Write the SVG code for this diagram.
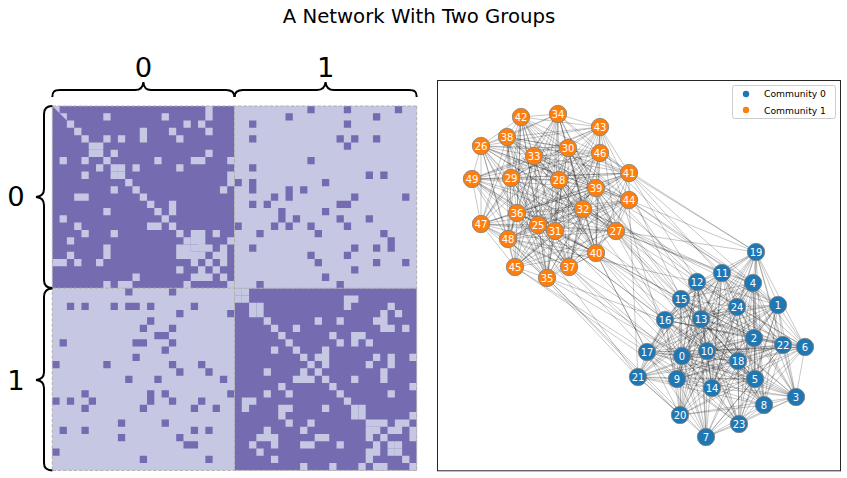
<svg xmlns="http://www.w3.org/2000/svg" width="847" height="478" viewBox="0 0 847 478">
<style>
.t{font-family:"DejaVu Sans",sans-serif;fill:#000}
.br{fill:none;stroke:#000;stroke-width:2}
.dk{fill:#756bb1}
.lt{fill:#c6c7e2}
.gl{stroke:#b0b0b0;stroke-width:1;stroke-dasharray:3.7 1.6;fill:none}
.e{fill:none;stroke:#000;stroke-opacity:.28;stroke-width:.8}
.node circle{stroke:#7f7f7f;stroke-width:.8}
.c0 circle{fill:#1f77b4}
.c1 circle{fill:#ff7f0e}
.node text{fill:#fff;font-family:"DejaVu Sans",sans-serif;font-size:10px;text-anchor:middle}
</style>
<rect width="847" height="478" fill="#fff"/>
<text class="t" x="419" y="23" font-size="19.7" text-anchor="middle">A Network With Two Groups</text>

<g id="matrix" transform="translate(52.3 106) scale(7.288)">
<rect class="dk" x="0" y="0" width="25" height="25"/>
<rect class="dk" x="25" y="25" width="25" height="25"/>
<rect class="lt" x="25" y="0" width="25" height="25"/>
<rect class="lt" x="0" y="25" width="25" height="25"/>
<path class="lt" d="M0 0h1v1h1v1h1v1h1v1h1v1h1v1h1v1h1v1h1v1h1v1h1v1h1v1h1v1h1v1h1v1h1v1h1v1h1v1h1v1h1v1h1v1h1v1h1v1h1v1h1v1h1v1h1v1h1v1h1v1h1v1h1v1h1v1h1v1h1v1h1v1h1v1h1v1h1v1h1v1h1v1h1v1h1v1h1v1h1v1h1v1h1v1h1v1h1v1h1v1h1v1h-1v-1h-1v-1h-1v-1h-1v-1h-1v-1h-1v-1h-1v-1h-1v-1h-1v-1h-1v-1h-1v-1h-1v-1h-1v-1h-1v-1h-1v-1h-1v-1h-1v-1h-1v-1h-1v-1h-1v-1h-1v-1h-1v-1h-1v-1h-1v-1h-1v-1h-1v-1h-1v-1h-1v-1h-1v-1h-1v-1h-1v-1h-1v-1h-1v-1h-1v-1h-1v-1h-1v-1h-1v-1h-1v-1h-1v-1h-1v-1h-1v-1h-1v-1h-1v-1h-1v-1h-1v-1h-1v-1h-1v-1h-1v-1z"/>
<path class="lt" d="M21 0h1v1h-1zM0 21h1v1h-1zM7 1h1v1h-1zM1 7h1v1h-1zM15 1h1v1h-1zM1 15h1v1h-1zM21 1h1v1h-1zM1 21h1v1h-1zM18 2h1v1h-1zM2 18h1v1h-1zM20 2h1v1h-1zM2 20h1v1h-1zM12 3h1v1h-1zM3 12h1v1h-1zM16 3h1v1h-1zM3 16h1v1h-1zM21 3h1v1h-1zM3 21h1v1h-1zM7 4h1v1h-1zM4 7h1v1h-1zM9 4h1v1h-1zM4 9h1v1h-1zM12 4h1v1h-1zM4 12h1v1h-1zM17 4h1v1h-1zM4 17h1v1h-1zM6 5h1v1h-1zM5 6h1v1h-1zM8 6h1v1h-1zM6 8h1v1h-1zM21 6h1v1h-1zM6 21h1v1h-1zM14 7h1v1h-1zM7 14h1v1h-1zM19 7h1v1h-1zM7 19h1v1h-1zM20 7h1v1h-1zM7 20h1v1h-1zM24 7h1v1h-1zM7 24h1v1h-1zM9 8h1v1h-1zM8 9h1v1h-1zM11 8h1v1h-1zM8 11h1v1h-1zM17 8h1v1h-1zM8 17h1v1h-1zM24 9h1v1h-1zM9 24h1v1h-1zM24 10h1v1h-1zM10 24h1v1h-1zM23 11h1v1h-1zM11 23h1v1h-1zM16 13h1v1h-1zM13 16h1v1h-1zM16 14h1v1h-1zM14 16h1v1h-1zM19 17h1v1h-1zM17 19h1v1h-1zM20 17h1v1h-1zM17 20h1v1h-1zM22 17h1v1h-1zM17 22h1v1h-1zM19 18h1v1h-1zM18 19h1v1h-1zM20 18h1v1h-1zM18 20h1v1h-1zM24 18h1v1h-1zM18 24h1v1h-1zM20 19h1v1h-1zM19 20h1v1h-1zM21 19h1v1h-1zM19 21h1v1h-1zM23 19h1v1h-1zM19 23h1v1h-1zM22 20h1v1h-1zM20 22h1v1h-1zM23 20h1v1h-1zM20 23h1v1h-1zM23 21h1v1h-1zM21 23h1v1h-1z"/>
<path class="lt" d="M26 25h1v1h-1zM25 26h1v1h-1zM40 26h1v1h-1zM26 40h1v1h-1zM41 26h1v1h-1zM26 41h1v1h-1zM28 27h1v1h-1zM27 28h1v1h-1zM40 27h1v1h-1zM27 40h1v1h-1zM46 27h1v1h-1zM27 46h1v1h-1zM45 28h1v1h-1zM28 45h1v1h-1zM47 28h1v1h-1zM28 47h1v1h-1zM36 29h1v1h-1zM29 36h1v1h-1zM39 29h1v1h-1zM29 39h1v1h-1zM44 29h1v1h-1zM29 44h1v1h-1zM45 29h1v1h-1zM29 45h1v1h-1zM33 30h1v1h-1zM30 33h1v1h-1zM45 30h1v1h-1zM30 45h1v1h-1zM46 30h1v1h-1zM30 46h1v1h-1zM48 30h1v1h-1zM30 48h1v1h-1zM38 31h1v1h-1zM31 38h1v1h-1zM41 31h1v1h-1zM31 41h1v1h-1zM42 31h1v1h-1zM31 42h1v1h-1zM39 32h1v1h-1zM32 39h1v1h-1zM41 32h1v1h-1zM32 41h1v1h-1zM43 32h1v1h-1zM32 43h1v1h-1zM37 33h1v1h-1zM33 37h1v1h-1zM36 34h1v1h-1zM34 36h1v1h-1zM37 34h1v1h-1zM34 37h1v1h-1zM44 34h1v1h-1zM34 44h1v1h-1zM46 34h1v1h-1zM34 46h1v1h-1zM49 34h1v1h-1zM34 49h1v1h-1zM37 35h1v1h-1zM35 37h1v1h-1zM43 35h1v1h-1zM35 43h1v1h-1zM46 35h1v1h-1zM35 46h1v1h-1zM45 36h1v1h-1zM36 45h1v1h-1zM41 37h1v1h-1zM37 41h1v1h-1zM45 37h1v1h-1zM37 45h1v1h-1zM49 38h1v1h-1zM38 49h1v1h-1zM46 39h1v1h-1zM39 46h1v1h-1zM42 41h1v1h-1zM41 42h1v1h-1zM49 42h1v1h-1zM42 49h1v1h-1zM44 43h1v1h-1zM43 44h1v1h-1zM45 43h1v1h-1zM43 45h1v1h-1zM47 43h1v1h-1zM43 47h1v1h-1zM48 43h1v1h-1zM43 48h1v1h-1zM46 44h1v1h-1zM44 46h1v1h-1zM47 44h1v1h-1zM44 47h1v1h-1zM49 44h1v1h-1zM44 49h1v1h-1zM49 45h1v1h-1zM45 49h1v1h-1zM47 46h1v1h-1zM46 47h1v1h-1z"/>
<path class="dk" d="M35 0h1v1h-1zM0 35h1v1h-1zM40 0h1v1h-1zM0 40h1v1h-1zM47 0h1v1h-1zM0 47h1v1h-1zM32 1h1v1h-1zM1 32h1v1h-1zM44 1h1v1h-1zM1 44h1v1h-1zM27 2h1v1h-1zM2 27h1v1h-1zM40 2h1v1h-1zM2 40h1v1h-1zM27 4h1v1h-1zM4 27h1v1h-1zM39 4h1v1h-1zM4 39h1v1h-1zM41 4h1v1h-1zM4 41h1v1h-1zM44 4h1v1h-1zM4 44h1v1h-1zM40 5h1v1h-1zM5 40h1v1h-1zM35 7h1v1h-1zM7 35h1v1h-1zM27 8h1v1h-1zM8 27h1v1h-1zM43 9h1v1h-1zM9 43h1v1h-1zM45 9h1v1h-1zM9 45h1v1h-1zM25 10h1v1h-1zM10 25h1v1h-1zM27 10h1v1h-1zM10 27h1v1h-1zM37 10h1v1h-1zM10 37h1v1h-1zM27 11h1v1h-1zM11 27h1v1h-1zM32 11h1v1h-1zM11 32h1v1h-1zM34 11h1v1h-1zM11 34h1v1h-1zM30 12h1v1h-1zM12 30h1v1h-1zM32 12h1v1h-1zM12 32h1v1h-1zM41 12h1v1h-1zM12 41h1v1h-1zM48 12h1v1h-1zM12 48h1v1h-1zM27 13h1v1h-1zM13 27h1v1h-1zM29 13h1v1h-1zM13 29h1v1h-1zM39 13h1v1h-1zM13 39h1v1h-1zM40 13h1v1h-1zM13 40h1v1h-1zM31 14h1v1h-1zM14 31h1v1h-1zM37 14h1v1h-1zM14 37h1v1h-1zM31 15h1v1h-1zM15 31h1v1h-1zM33 15h1v1h-1zM15 33h1v1h-1zM39 15h1v1h-1zM15 39h1v1h-1zM43 15h1v1h-1zM15 43h1v1h-1zM25 16h1v1h-1zM16 25h1v1h-1zM30 16h1v1h-1zM16 30h1v1h-1zM32 16h1v1h-1zM16 32h1v1h-1zM35 16h1v1h-1zM16 35h1v1h-1zM40 16h1v1h-1zM16 40h1v1h-1zM28 17h1v1h-1zM17 28h1v1h-1zM36 17h1v1h-1zM17 36h1v1h-1zM45 17h1v1h-1zM17 45h1v1h-1zM46 18h1v1h-1zM18 46h1v1h-1zM27 19h1v1h-1zM19 27h1v1h-1zM41 19h1v1h-1zM19 41h1v1h-1zM44 19h1v1h-1zM19 44h1v1h-1zM46 19h1v1h-1zM19 46h1v1h-1zM35 20h1v1h-1zM20 35h1v1h-1zM40 20h1v1h-1zM20 40h1v1h-1zM36 21h1v1h-1zM21 36h1v1h-1zM44 21h1v1h-1zM21 44h1v1h-1zM48 21h1v1h-1zM21 48h1v1h-1zM41 22h1v1h-1zM22 41h1v1h-1zM37 23h1v1h-1zM23 37h1v1h-1zM28 24h1v1h-1zM24 28h1v1h-1zM39 24h1v1h-1zM24 39h1v1h-1z"/>
</g>
<path class="gl" d="M52.3 106H416.7M52.3 288.2H416.7M52.3 470.4H416.7M52.3 106V470.4M234.5 106V470.4M416.7 106V470.4"/>

<g id="braces">
<path class="br" d="M52.3 97C52.3 92 54 90 60 90L135 90C140 90 143 88 143.4 82C143.8 88 146 90 151 90L226 90C232 90 234.5 92 234.5 97"/>
<path class="br" d="M234.5 97C234.5 92 237 90 243 90L317 90C322 90 325 88 325.6 82C326 88 329 90 334 90L409 90C415 90 416.7 92 416.7 97"/>
<path class="br" d="M52.3 106C47 106 44 108 44 114L44 189C44 194 42 196.5 36 197C42 197.5 44 200 44 205L44 280C44 286 47 288 52.3 288"/>
<path class="br" d="M52.3 288.5C47 288.5 44 291 44 297L44 372C44 377 42 379.5 36 380C42 380.5 44 383 44 388L44 463C44 468 47 470.4 52.3 470.4"/>
<text class="t" x="143.4" y="76.5" font-size="27.4" text-anchor="middle">0</text>
<text class="t" x="325.6" y="76.5" font-size="27.4" text-anchor="middle">1</text>
<text class="t" x="16" y="206" font-size="27.4" text-anchor="middle">0</text>
<text class="t" x="16" y="390" font-size="27.4" text-anchor="middle">1</text>
</g>

<rect x="437.5" y="80.5" width="403" height="390.3" fill="none" stroke="#262626" stroke-width="1"/>

<g id="edges">
<path class="e" d="M682 356L778 305M682 356L754 338M682 356L796 397M682 356L753 283M682 356L755 379M682 356L805 347M682 356L706 437M682 356L764 405M682 356L677 379M682 356L707 351M682 356L722 273M682 356L697 282M682 356L701 319M682 356L712 388M682 356L681 299M682 356L665 320M682 356L647 352M682 356L738 361M682 356L756 252M682 356L680 415M682 356L783 345M682 356L739 424M682 356L737 307M682 356L547 278M682 356L596 253M682 356L481 224"/>
<path class="e" d="M778 305L754 338M778 305L796 397M778 305L753 283M778 305L755 379M778 305L805 347M778 305L764 405M778 305L677 379M778 305L707 351M778 305L722 273M778 305L697 282M778 305L701 319M778 305L712 388M778 305L665 320M778 305L647 352M778 305L738 361M778 305L756 252M778 305L680 415M778 305L783 345M778 305L739 424M778 305L737 307M778 305L583 209M778 305L629 200"/>
<path class="e" d="M754 338L796 397M754 338L753 283M754 338L755 379M754 338L805 347M754 338L706 437M754 338L764 405M754 338L677 379M754 338L707 351M754 338L722 273M754 338L697 282M754 338L701 319M754 338L712 388M754 338L681 299M754 338L665 320M754 338L647 352M754 338L756 252M754 338L638 377M754 338L783 345M754 338L739 424M754 338L737 307M754 338L616 231M754 338L596 253"/>
<path class="e" d="M796 397L753 283M796 397L755 379M796 397L805 347M796 397L706 437M796 397L764 405M796 397L677 379M796 397L707 351M796 397L722 273M796 397L701 319M796 397L712 388M796 397L681 299M796 397L647 352M796 397L738 361M796 397L756 252M796 397L680 415M796 397L783 345M796 397L739 424M796 397L737 307"/>
<path class="e" d="M753 283L755 379M753 283L805 347M753 283L764 405M753 283L707 351M753 283L722 273M753 283L701 319M753 283L712 388M753 283L681 299M753 283L665 320M753 283L738 361M753 283L756 252M753 283L680 415M753 283L638 377M753 283L783 345M753 283L739 424M753 283L737 307M753 283L616 231M753 283L596 188M753 283L629 173M753 283L629 200"/>
<path class="e" d="M755 379L706 437M755 379L764 405M755 379L677 379M755 379L707 351M755 379L722 273M755 379L697 282M755 379L701 319M755 379L712 388M755 379L681 299M755 379L665 320M755 379L647 352M755 379L738 361M755 379L756 252M755 379L680 415M755 379L638 377M755 379L783 345M755 379L739 424M755 379L737 307M755 379L596 253"/>
<path class="e" d="M805 347L706 437M805 347L677 379M805 347L707 351M805 347L722 273M805 347L697 282M805 347L701 319M805 347L712 388M805 347L681 299M805 347L665 320M805 347L647 352M805 347L738 361M805 347L756 252M805 347L680 415M805 347L783 345M805 347L739 424M805 347L737 307"/>
<path class="e" d="M706 437L764 405M706 437L677 379M706 437L707 351M706 437L722 273M706 437L697 282M706 437L701 319M706 437L681 299M706 437L665 320M706 437L647 352M706 437L738 361M706 437L638 377M706 437L783 345M706 437L739 424M706 437L547 278"/>
<path class="e" d="M764 405L707 351M764 405L697 282M764 405L701 319M764 405L712 388M764 405L681 299M764 405L665 320M764 405L738 361M764 405L756 252M764 405L680 415M764 405L638 377M764 405L783 345M764 405L739 424M764 405L737 307M764 405L616 231"/>
<path class="e" d="M677 379L707 351M677 379L722 273M677 379L697 282M677 379L701 319M677 379L712 388M677 379L681 299M677 379L665 320M677 379L647 352M677 379L738 361M677 379L756 252M677 379L680 415M677 379L638 377M677 379L783 345M677 379L739 424M677 379L600 127M677 379L515 267"/>
<path class="e" d="M707 351L722 273M707 351L697 282M707 351L701 319M707 351L712 388M707 351L681 299M707 351L665 320M707 351L647 352M707 351L738 361M707 351L756 252M707 351L680 415M707 351L638 377M707 351L783 345M707 351L739 424M707 351L538 225M707 351L616 231M707 351L569 267"/>
<path class="e" d="M722 273L697 282M722 273L701 319M722 273L712 388M722 273L681 299M722 273L665 320M722 273L647 352M722 273L738 361M722 273L756 252M722 273L680 415M722 273L638 377M722 273L783 345M722 273L737 307M722 273L616 231M722 273L583 209M722 273L558 114"/>
<path class="e" d="M697 282L701 319M697 282L712 388M697 282L681 299M697 282L665 320M697 282L647 352M697 282L738 361M697 282L756 252M697 282L680 415M697 282L638 377M697 282L783 345M697 282L739 424M697 282L737 307M697 282L568 148M697 282L583 209M697 282L629 173M697 282L508 239"/>
<path class="e" d="M701 319L712 388M701 319L681 299M701 319L647 352M701 319L738 361M701 319L756 252M701 319L680 415M701 319L638 377M701 319L783 345M701 319L739 424M701 319L737 307M701 319L616 231M701 319L511 178M701 319L596 188M701 319L596 253"/>
<path class="e" d="M712 388L681 299M712 388L647 352M712 388L738 361M712 388L756 252M712 388L680 415M712 388L638 377M712 388L783 345M712 388L739 424M712 388L737 307M712 388L555 231M712 388L569 267"/>
<path class="e" d="M681 299L665 320M681 299L647 352M681 299L738 361M681 299L756 252M681 299L680 415M681 299L638 377M681 299L783 345M681 299L739 424M681 299L737 307M681 299L555 231M681 299L534 156M681 299L596 188M681 299L600 127"/>
<path class="e" d="M665 320L647 352M665 320L738 361M665 320L756 252M665 320L680 415M665 320L638 377M665 320L783 345M665 320L739 424M665 320L737 307M665 320L538 225M665 320L568 148M665 320L583 209M665 320L547 278M665 320L596 253"/>
<path class="e" d="M647 352L738 361M647 352L638 377M647 352L739 424M647 352L737 307M647 352L559 180M647 352L517 213M647 352L515 267"/>
<path class="e" d="M738 361L638 377M738 361L783 345M738 361L739 424M738 361L600 153"/>
<path class="e" d="M756 252L783 345M756 252L737 307M756 252L616 231M756 252L629 173M756 252L629 200M756 252L600 153"/>
<path class="e" d="M680 415L638 377M680 415L737 307M680 415L547 278M680 415L596 253"/>
<path class="e" d="M638 377L783 345M638 377L737 307M638 377L517 213M638 377L629 200M638 377L508 239"/>
<path class="e" d="M783 345L739 424M783 345L737 307M783 345L629 173"/>
<path class="e" d="M739 424L737 307M739 424L569 267"/>
<path class="e" d="M737 307L559 180M737 307L596 188"/>
<path class="e" d="M538 225L616 231M538 225L559 180M538 225L511 178M538 225L568 148M538 225L555 231M538 225L583 209M538 225L534 156M538 225L558 114M538 225L547 278M538 225L517 213M538 225L569 267M538 225L507 137M538 225L596 188M538 225L596 253M538 225L629 173M538 225L521 117M538 225L600 127M538 225L629 200M538 225L515 267M538 225L600 153M538 225L481 224M538 225L508 239M538 225L472 179"/>
<path class="e" d="M481 146L616 231M481 146L559 180M481 146L511 178M481 146L568 148M481 146L555 231M481 146L583 209M481 146L534 156M481 146L558 114M481 146L547 278M481 146L517 213M481 146L569 267M481 146L507 137M481 146L596 188M481 146L521 117M481 146L600 127M481 146L629 200M481 146L515 267M481 146L600 153M481 146L481 224M481 146L508 239M481 146L472 179"/>
<path class="e" d="M616 231L511 178M616 231L568 148M616 231L555 231M616 231L583 209M616 231L534 156M616 231L558 114M616 231L547 278M616 231L517 213M616 231L569 267M616 231L507 137M616 231L596 188M616 231L629 173M616 231L521 117M616 231L600 127M616 231L629 200M616 231L515 267M616 231L481 224M616 231L508 239M616 231L472 179"/>
<path class="e" d="M559 180L511 178M559 180L568 148M559 180L555 231M559 180L583 209M559 180L534 156M559 180L558 114M559 180L547 278M559 180L517 213M559 180L569 267M559 180L507 137M559 180L596 188M559 180L596 253M559 180L629 173M559 180L521 117M559 180L600 127M559 180L629 200M559 180L600 153M559 180L508 239M559 180L472 179"/>
<path class="e" d="M511 178L568 148M511 178L555 231M511 178L583 209M511 178L534 156M511 178L558 114M511 178L547 278M511 178L569 267M511 178L507 137M511 178L596 253M511 178L629 173M511 178L521 117M511 178L600 127M511 178L600 153M511 178L481 224M511 178L508 239M511 178L472 179"/>
<path class="e" d="M568 148L555 231M568 148L583 209M568 148L558 114M568 148L547 278M568 148L517 213M568 148L569 267M568 148L507 137M568 148L596 188M568 148L596 253M568 148L629 173M568 148L521 117M568 148L600 127M568 148L629 200M568 148L481 224M568 148L472 179"/>
<path class="e" d="M555 231L583 209M555 231L534 156M555 231L558 114M555 231L547 278M555 231L517 213M555 231L569 267M555 231L596 188M555 231L596 253M555 231L600 127M555 231L629 200M555 231L515 267M555 231L600 153M555 231L481 224M555 231L508 239M555 231L472 179"/>
<path class="e" d="M583 209L534 156M583 209L558 114M583 209L547 278M583 209L517 213M583 209L569 267M583 209L507 137M583 209L596 253M583 209L521 117M583 209L629 200M583 209L515 267M583 209L600 153M583 209L481 224M583 209L508 239M583 209L472 179"/>
<path class="e" d="M534 156L558 114M534 156L547 278M534 156L517 213M534 156L507 137M534 156L596 188M534 156L596 253M534 156L629 173M534 156L521 117M534 156L600 127M534 156L629 200M534 156L515 267M534 156L600 153M534 156L481 224M534 156L508 239M534 156L472 179"/>
<path class="e" d="M558 114L547 278M558 114L507 137M558 114L596 188M558 114L596 253M558 114L629 173M558 114L521 117M558 114L600 127M558 114L515 267M558 114L481 224M558 114L508 239"/>
<path class="e" d="M547 278L517 213M547 278L507 137M547 278L596 188M547 278L596 253M547 278L629 173M547 278L521 117M547 278L629 200M547 278L515 267M547 278L481 224M547 278L508 239M547 278L472 179"/>
<path class="e" d="M517 213L569 267M517 213L507 137M517 213L596 188M517 213L596 253M517 213L629 173M517 213L521 117M517 213L600 127M517 213L629 200M517 213L600 153M517 213L481 224M517 213L508 239M517 213L472 179"/>
<path class="e" d="M569 267L507 137M569 267L596 188M569 267L596 253M569 267L521 117M569 267L600 127M569 267L629 200M569 267L600 153M569 267L481 224M569 267L508 239M569 267L472 179"/>
<path class="e" d="M507 137L596 188M507 137L596 253M507 137L629 173M507 137L521 117M507 137L600 127M507 137L629 200M507 137L515 267M507 137L600 153M507 137L481 224M507 137L508 239"/>
<path class="e" d="M596 188L596 253M596 188L629 173M596 188L521 117M596 188L600 127M596 188L629 200M596 188L515 267M596 188L481 224M596 188L508 239M596 188L472 179"/>
<path class="e" d="M596 253L629 173M596 253L521 117M596 253L600 127M596 253L629 200M596 253L515 267M596 253L600 153M596 253L481 224M596 253L508 239M596 253L472 179"/>
<path class="e" d="M629 173L600 127M629 173L629 200M629 173L515 267M629 173L600 153M629 173L481 224M629 173L508 239M629 173L472 179"/>
<path class="e" d="M521 117L600 127M521 117L629 200M521 117L515 267M521 117L600 153M521 117L481 224M521 117L508 239"/>
<path class="e" d="M600 127L600 153M600 127L472 179"/>
<path class="e" d="M629 200L515 267M629 200L508 239"/>
<path class="e" d="M515 267L600 153M515 267L481 224M515 267L508 239"/>
<path class="e" d="M600 153L508 239M600 153L472 179"/>
<path class="e" d="M481 224L508 239M481 224L472 179"/>
<path class="e" d="M508 239L472 179"/>
</g>

<g id="nodes">
<g id="node-0" class="node c0"><circle cx="682" cy="356" r="8.7"/><text x="682" y="359.6">0</text></g>
<g id="node-1" class="node c0"><circle cx="778" cy="305" r="8.7"/><text x="778" y="308.6">1</text></g>
<g id="node-2" class="node c0"><circle cx="754" cy="338" r="8.7"/><text x="754" y="341.6">2</text></g>
<g id="node-3" class="node c0"><circle cx="796" cy="397" r="8.7"/><text x="796" y="400.6">3</text></g>
<g id="node-4" class="node c0"><circle cx="753" cy="283" r="8.7"/><text x="753" y="286.6">4</text></g>
<g id="node-5" class="node c0"><circle cx="755" cy="379" r="8.7"/><text x="755" y="382.6">5</text></g>
<g id="node-6" class="node c0"><circle cx="805" cy="347" r="8.7"/><text x="805" y="350.6">6</text></g>
<g id="node-7" class="node c0"><circle cx="706" cy="437" r="8.7"/><text x="706" y="440.6">7</text></g>
<g id="node-8" class="node c0"><circle cx="764" cy="405" r="8.7"/><text x="764" y="408.6">8</text></g>
<g id="node-9" class="node c0"><circle cx="677" cy="379" r="8.7"/><text x="677" y="382.6">9</text></g>
<g id="node-10" class="node c0"><circle cx="707" cy="351" r="8.7"/><text x="707" y="354.6">10</text></g>
<g id="node-11" class="node c0"><circle cx="722" cy="273" r="8.7"/><text x="722" y="276.6">11</text></g>
<g id="node-12" class="node c0"><circle cx="697" cy="282" r="8.7"/><text x="697" y="285.6">12</text></g>
<g id="node-13" class="node c0"><circle cx="701" cy="319" r="8.7"/><text x="701" y="322.6">13</text></g>
<g id="node-14" class="node c0"><circle cx="712" cy="388" r="8.7"/><text x="712" y="391.6">14</text></g>
<g id="node-15" class="node c0"><circle cx="681" cy="299" r="8.7"/><text x="681" y="302.6">15</text></g>
<g id="node-16" class="node c0"><circle cx="665" cy="320" r="8.7"/><text x="665" y="323.6">16</text></g>
<g id="node-17" class="node c0"><circle cx="647" cy="352" r="8.7"/><text x="647" y="355.6">17</text></g>
<g id="node-18" class="node c0"><circle cx="738" cy="361" r="8.7"/><text x="738" y="364.6">18</text></g>
<g id="node-19" class="node c0"><circle cx="756" cy="252" r="8.7"/><text x="756" y="255.6">19</text></g>
<g id="node-20" class="node c0"><circle cx="680" cy="415" r="8.7"/><text x="680" y="418.6">20</text></g>
<g id="node-21" class="node c0"><circle cx="638" cy="377" r="8.7"/><text x="638" y="380.6">21</text></g>
<g id="node-22" class="node c0"><circle cx="783" cy="345" r="8.7"/><text x="783" y="348.6">22</text></g>
<g id="node-23" class="node c0"><circle cx="739" cy="424" r="8.7"/><text x="739" y="427.6">23</text></g>
<g id="node-24" class="node c0"><circle cx="737" cy="307" r="8.7"/><text x="737" y="310.6">24</text></g>
<g id="node-25" class="node c1"><circle cx="538" cy="225" r="8.7"/><text x="538" y="228.6">25</text></g>
<g id="node-26" class="node c1"><circle cx="481" cy="146" r="8.7"/><text x="481" y="149.6">26</text></g>
<g id="node-27" class="node c1"><circle cx="616" cy="231" r="8.7"/><text x="616" y="234.6">27</text></g>
<g id="node-28" class="node c1"><circle cx="559" cy="180" r="8.7"/><text x="559" y="183.6">28</text></g>
<g id="node-29" class="node c1"><circle cx="511" cy="178" r="8.7"/><text x="511" y="181.6">29</text></g>
<g id="node-30" class="node c1"><circle cx="568" cy="148" r="8.7"/><text x="568" y="151.6">30</text></g>
<g id="node-31" class="node c1"><circle cx="555" cy="231" r="8.7"/><text x="555" y="234.6">31</text></g>
<g id="node-32" class="node c1"><circle cx="583" cy="209" r="8.7"/><text x="583" y="212.6">32</text></g>
<g id="node-33" class="node c1"><circle cx="534" cy="156" r="8.7"/><text x="534" y="159.6">33</text></g>
<g id="node-34" class="node c1"><circle cx="558" cy="114" r="8.7"/><text x="558" y="117.6">34</text></g>
<g id="node-35" class="node c1"><circle cx="547" cy="278" r="8.7"/><text x="547" y="281.6">35</text></g>
<g id="node-36" class="node c1"><circle cx="517" cy="213" r="8.7"/><text x="517" y="216.6">36</text></g>
<g id="node-37" class="node c1"><circle cx="569" cy="267" r="8.7"/><text x="569" y="270.6">37</text></g>
<g id="node-38" class="node c1"><circle cx="507" cy="137" r="8.7"/><text x="507" y="140.6">38</text></g>
<g id="node-39" class="node c1"><circle cx="596" cy="188" r="8.7"/><text x="596" y="191.6">39</text></g>
<g id="node-40" class="node c1"><circle cx="596" cy="253" r="8.7"/><text x="596" y="256.6">40</text></g>
<g id="node-41" class="node c1"><circle cx="629" cy="173" r="8.7"/><text x="629" y="176.6">41</text></g>
<g id="node-42" class="node c1"><circle cx="521" cy="117" r="8.7"/><text x="521" y="120.6">42</text></g>
<g id="node-43" class="node c1"><circle cx="600" cy="127" r="8.7"/><text x="600" y="130.6">43</text></g>
<g id="node-44" class="node c1"><circle cx="629" cy="200" r="8.7"/><text x="629" y="203.6">44</text></g>
<g id="node-45" class="node c1"><circle cx="515" cy="267" r="8.7"/><text x="515" y="270.6">45</text></g>
<g id="node-46" class="node c1"><circle cx="600" cy="153" r="8.7"/><text x="600" y="156.6">46</text></g>
<g id="node-47" class="node c1"><circle cx="481" cy="224" r="8.7"/><text x="481" y="227.6">47</text></g>
<g id="node-48" class="node c1"><circle cx="508" cy="239" r="8.7"/><text x="508" y="242.6">48</text></g>
<g id="node-49" class="node c1"><circle cx="472" cy="179" r="8.7"/><text x="472" y="182.6">49</text></g>
</g>

<g id="legend">
<rect x="732.5" y="85.5" width="103" height="33" rx="2" fill="#fff" fill-opacity=".8" stroke="#cccccc" stroke-width="1"/>
<circle cx="746" cy="94" r="3.2" fill="#1f77b4"/>
<circle cx="746" cy="110" r="3.2" fill="#ff7f0e"/>
<text class="t" x="764" y="97.3" font-size="9.2">Community 0</text>
<text class="t" x="764" y="113.5" font-size="9.2">Community 1</text>
</g>
</svg>
